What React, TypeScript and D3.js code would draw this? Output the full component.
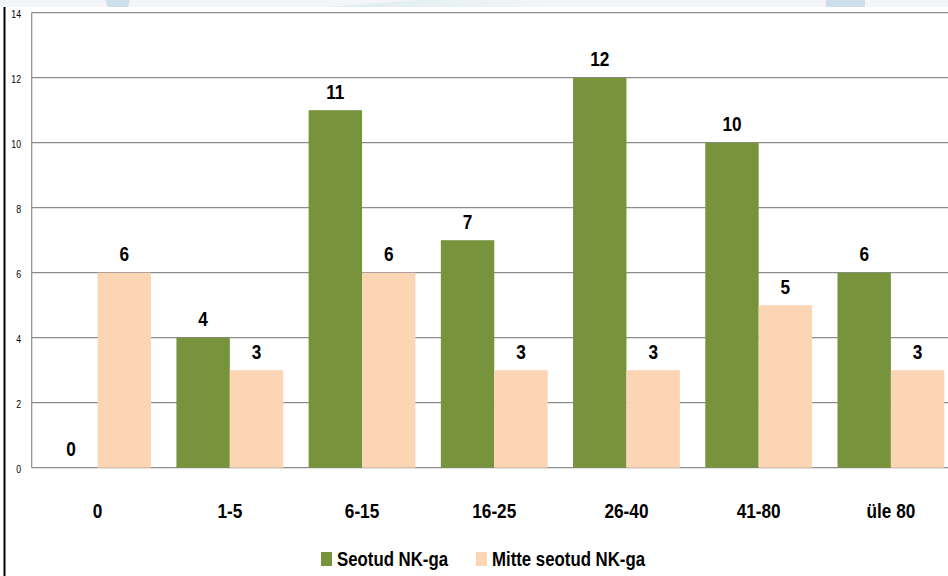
import React from "react";
import * as d3 from "d3";

const categories = ["0", "1-5", "6-15", "16-25", "26-40", "41-80", "üle 80"];
const seotud = [0, 4, 11, 7, 12, 10, 6];
const mitteSeotud = [6, 3, 6, 3, 3, 5, 3];
const seriesNames = ["Seotud NK-ga", "Mitte seotud NK-ga"];
const seriesColors = ["#77933C", "#FCD5B5"];
const yTicks = [0, 2, 4, 6, 8, 10, 12, 14];

const W = 948;
const H = 576;
const FONT = "'Liberation Sans', Arial, sans-serif";
const SX = 0.82;

function NText(props: {
  x: number;
  y: number;
  size: number;
  bold?: boolean;
  anchor?: "start" | "middle" | "end";
  children: React.ReactNode;
}) {
  return (
    <text
      transform={`translate(${props.x},${props.y}) scale(${SX},1)`}
      textAnchor={props.anchor || "start"}
      fontFamily={FONT}
      fontWeight={props.bold ? "bold" : "normal"}
      fontSize={props.size}
      fill="#000"
    >
      {props.children}
    </text>
  );
}

export default function App() {
  const x0 = d3.scaleBand<string>().domain(categories).range([31.5, 957]).paddingInner(0).paddingOuter(0);
  const x1 = d3.scaleBand<string>().domain(seriesNames).range([0, x0.bandwidth()]).paddingInner(0).paddingOuter(0.238);
  const y = d3.scaleLinear().domain([0, 14]).range([467.7, 12.7]);
  const series = [seotud, mitteSeotud];

  return (
    <div style={{ position: "fixed", left: 0, top: 0, width: W, height: H, background: "#fff" }}>
      <svg width={W} height={H} style={{ display: "block" }}>
        <defs>
          <linearGradient id="band" x1="0" x2="1" y1="0" y2="0">
            <stop offset="0" stopColor="#dceaf0" />
            <stop offset="0.5" stopColor="#e8f2f3" />
            <stop offset="1" stopColor="#f3f5f7" />
          </linearGradient>
        </defs>
        <rect x={0} y={0} width={W} height={7} fill="#f3f5f8" />
        <polygon points="105,0 130,0 128,7 108,7" fill="#cfe0ec" />
        <polygon points="420,0 560,0 520,7 330,7" fill="url(#band)" />
        <rect x={826} y={0} width={39} height={7} fill="#cddfec" />
        <rect x={3.5} y={7} width={2} height={H - 7} fill="#000" />

        {yTicks.map((t) => (
          <g key={t}>
            <line x1={31.5} x2={W} y1={y(t)} y2={y(t)} stroke="#8c8c8c" strokeWidth={1.2} />
            <NText x={21} y={y(t) + 5.5} size={10.6} anchor="end">
              {t}
            </NText>
          </g>
        ))}
        <line x1={31.7} x2={31.7} y1={y(14)} y2={y(0)} stroke="#8c8c8c" strokeWidth={1.2} />

        {categories.map((c, i) => (
          <g key={c}>
            {series.map((s, j) => {
              const bx = (x0(c) as number) + (x1(seriesNames[j]) as number);
              const bw = x1.bandwidth();
              return (
                <g key={j}>
                  {s[i] > 0 && (
                    <rect x={bx} y={y(s[i])} width={bw} height={y(0) - y(s[i])} fill={seriesColors[j]} />
                  )}
                  <NText x={bx + bw / 2} y={y(s[i]) - 11.7} size={21} bold anchor="middle">
                    {s[i]}
                  </NText>
                </g>
              );
            })}
            <NText x={(x0(c) as number) + x0.bandwidth() / 2} y={518} size={21} bold anchor="middle">
              {c}
            </NText>
          </g>
        ))}

        <rect x={321} y={552} width={11} height={14} fill={seriesColors[0]} />
        <NText x={337} y={565.5} size={20.5} bold>
          {seriesNames[0]}
        </NText>
        <rect x={476} y={552} width={11} height={14} fill={seriesColors[1]} />
        <NText x={492} y={565.5} size={20.5} bold>
          {seriesNames[1]}
        </NText>
      </svg>
    </div>
  );
}
